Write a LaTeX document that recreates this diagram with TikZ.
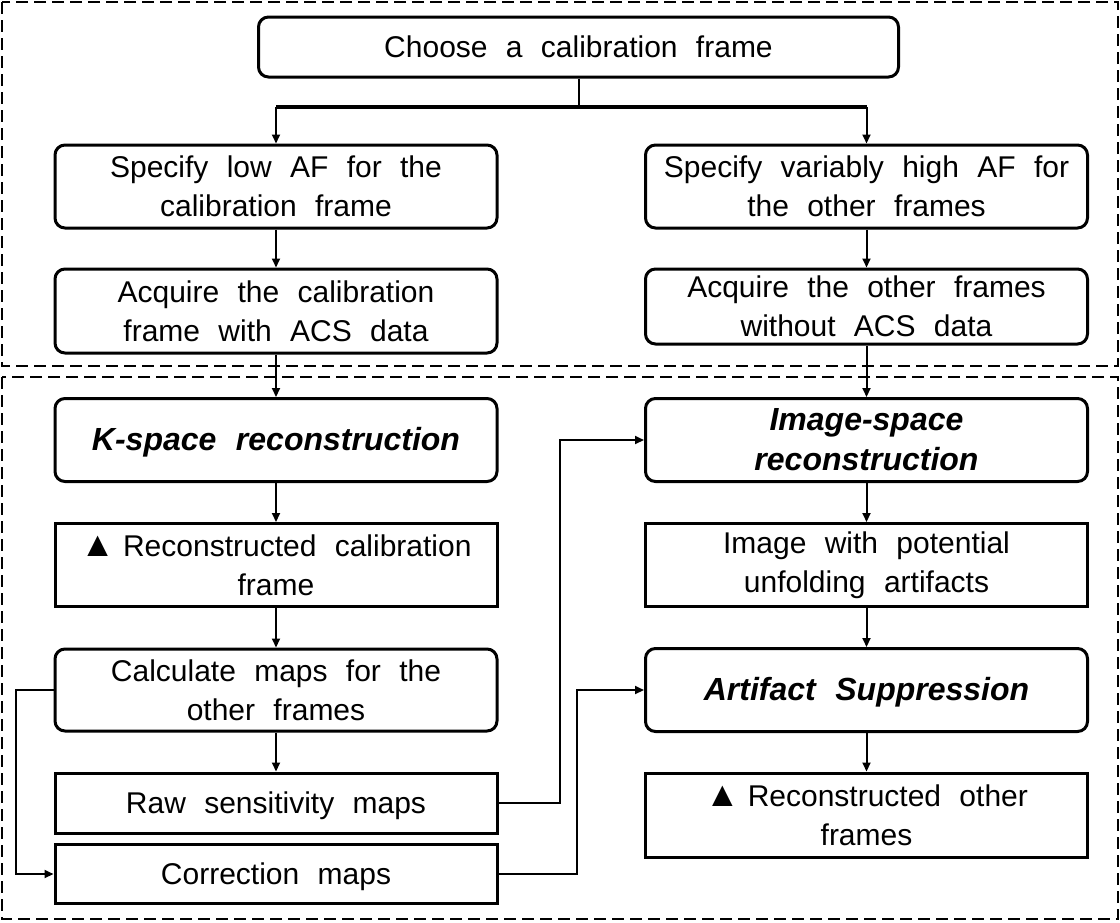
\documentclass[tikz,border=0pt]{standalone}
\usepackage{fontspec}
\setmainfont{Liberation Sans}[WordSpace=2.2]
\usetikzlibrary{arrows.meta}
\newcommand\tri{{\fontsize{35}{39}\selectfont ▲}}
\begin{document}
\begin{tikzpicture}[x=1pt,y=-1pt,
  box/.style={draw, line width=3pt, minimum width=442pt, align=center, inner sep=0pt, font=\fontsize{30}{39}\selectfont},
  rbox/.style={box, rounded corners=10pt},
  bi/.style={font=\fontsize{32}{40}\selectfont\bfseries\itshape},
  oneline/.style={text height=21.5pt, text depth=0pt},
  arr/.style={line width=2pt, -{Triangle[length=9pt,width=8pt]}},
  conn/.style={line width=2pt},
  frm/.style={line width=2pt, dash pattern=on 12pt off 6pt}]
\fill[white] (0,0) rectangle (1120,922);
\useasboundingbox (0,0) rectangle (1120,922);
% dashed frames
\draw[frm] (2,2) rectangle (1118,366);
\draw[frm] (2,377) rectangle (1118,919);
% nodes
\node[rbox, oneline, minimum width=640pt, minimum height=60pt] (choose) at (578.5,47) {Choose a calibration frame};
\node[rbox, minimum height=83pt] (spl) at (276,186.5) {Specify low AF for the\\calibration frame};
\node[rbox, minimum height=83pt] (sph) at (866.5,186.5) {Specify variably high AF for\\the other frames};
\node[rbox, minimum height=84pt] (acl) at (276,311) {Acquire the calibration\\frame with ACS data};
\node[rbox, minimum height=75pt] (aco) at (866.5,306.5) {Acquire the other frames\\without ACS data};
\node[rbox, bi, oneline, minimum height=83pt] (ksp) at (276,440) {K-space reconstruction};
\node[rbox, bi, minimum height=83pt] (isp) at (866.5,440) {Image-space\\reconstruction};
\node[box, minimum height=83pt] (rcf) at (276,565) {\tri\hspace{8pt}Reconstructed calibration\\frame};
\node[box, minimum height=83pt] (iwp) at (866.5,565) {Image with potential\\unfolding artifacts};
\node[rbox, minimum height=82pt] (cal) at (276,690) {Calculate maps for the\\other frames};
\node[rbox, bi, oneline, minimum height=83pt] (art) at (866.5,690) {Artifact Suppression};
\node[box, oneline, minimum height=60pt] (raw) at (276,803) {Raw sensitivity maps};
\node[box, oneline, minimum height=59pt] (cor) at (276,874) {Correction maps};
\node[box, minimum height=84pt] (rof) at (866.5,815) {\tri\hspace{8pt}Reconstructed other\\frames};
% split
\coordinate (barM) at (578.5,107);
\coordinate (barL) at (276,107);
\coordinate (barR) at (866.5,107);
\draw[conn] (choose.south) -- (barM);
\draw[line width=3.5pt] (barL) -- (barR);
\draw[arr] (barL) -- (spl.north);
\draw[arr] (barR) -- (sph.north);
% left column
\draw[arr] (spl) -- (acl);
\draw[arr] (acl) -- (ksp);
\draw[arr] (ksp) -- (rcf);
\draw[arr] (rcf) -- (cal);
\draw[arr] (cal) -- (raw);
% right column
\draw[arr] (sph) -- (aco);
\draw[arr] (aco) -- (isp);
\draw[arr] (isp) -- (iwp);
\draw[arr] (iwp) -- (art);
\draw[arr] (art) -- (rof);
% cross connectors
\draw[arr] (raw.east) -- ++(61,0) |- (isp.west);
\draw[arr] (cor.east) -- ++(78,0) |- (art.west);
\draw[arr] (cal.west) -- ++(-38,0) |- (cor.west);
\end{tikzpicture}
\end{document}
